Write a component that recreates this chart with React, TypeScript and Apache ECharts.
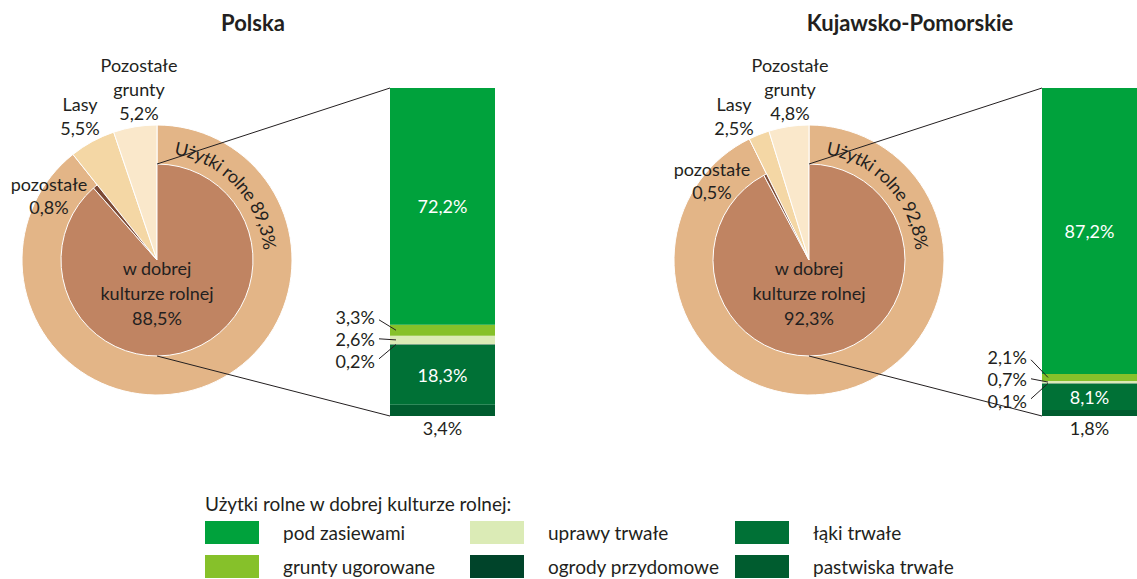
import React, { useEffect, useRef } from 'react';
import * as echarts from 'echarts';

const FONT = 'Lato';
const TEXT = '#231f20';

// ---- data ----
const regions = ['Polska', 'Kujawsko-Pomorskie'];
const landCategories = ['Użytki rolne', 'Lasy', 'Pozostałe grunty'];
const landPolska = [89.3, 5.5, 5.2];
const landKujawsko = [92.8, 2.5, 4.8];
const agriCategories = ['w dobrej kulturze rolnej', 'pozostałe'];
const agriPolska = [88.5, 0.8];
const agriKujawsko = [92.3, 0.5];
const useCategories = [
  'pod zasiewami',
  'grunty ugorowane',
  'uprawy trwałe',
  'ogrody przydomowe',
  'łąki trwałe',
  'pastwiska trwałe',
];
const usePolska = [72.2, 3.3, 2.6, 0.2, 18.3, 3.4];
const useKujawsko = [87.2, 2.1, 0.7, 0.1, 8.1, 1.8];
const legendTitle = 'Użytki rolne w dobrej kulturze rolnej:';

// ---- styles ----
const landColors = ['#e3b587', '#f4d7a5', '#fae8cb'];
const agriColors = ['#c08462', '#7c4a35'];
const useColors = ['#00a23c', '#86c12a', '#dbebb6', '#00442a', '#007136', '#005c2f'];

const R_OUT = 135;
const R_IN = 96;
const BAR_TOP = 88;
const BAR_H = 328;
const BAR_W = 105;
const FS = 18;

const panels = [
  {
    land: landPolska, agri: agriPolska, use: usePolska,
    cx: 157, cy: 260, barLeft: 390, titleX: 253,
    pgPos: [139, 89], lasyPos: [80, 116], pozPos: [49, 195], smallShift: 4,
  },
  {
    land: landKujawsko, agri: agriKujawsko, use: useKujawsko,
    cx: 809, cy: 260, barLeft: 1042, titleX: 910,
    pgPos: [790, 89], lasyPos: [734, 116], pozPos: [712, 180], smallShift: 0,
  },
];

const fmt = (v: number) => v.toFixed(1).replace('.', ',') + '%';

function txt(x: number, y: number, text: string, extra: any = {}) {
  return {
    type: 'text', x, y, z: 100, silent: true,
    style: {
      text, fill: TEXT, fontFamily: FONT, fontSize: FS,
      align: 'center', verticalAlign: 'middle', lineHeight: 24,
      ...extra,
    },
  };
}

function arcText(text: string, cx: number, cy: number, r: number, centerDeg: number, size: number) {
  const canvas = document.createElement('canvas');
  const ctx = canvas.getContext('2d')!;
  ctx.font = `${size}px ${FONT}`;
  const chars = Array.from(text);
  const widths = chars.map((c) => ctx.measureText(c).width);
  const total = widths.reduce((a, b) => a + b, 0);
  let a = (centerDeg * Math.PI) / 180 - total / 2 / r;
  const els: any[] = [];
  chars.forEach((c, k) => {
    const th = a + widths[k] / 2 / r;
    els.push({
      type: 'text', z: 100, silent: true,
      x: cx + r * Math.sin(th), y: cy - r * Math.cos(th), rotation: -th,
      style: { text: c, fill: TEXT, fontFamily: FONT, fontSize: size, align: 'center', verticalAlign: 'middle' },
    });
    a += widths[k] / r;
  });
  return els;
}

export default function App() {
  const ref = useRef<HTMLDivElement>(null);
  useEffect(() => {
    document.body.style.margin = '0';
    const chart = echarts.init(ref.current!, null, { renderer: 'svg' });

    const series: any[] = [];
    panels.forEach((p, i) => {
      const total = p.land.reduce((a, b) => a + b, 0);
      const agriSum = p.agri.reduce((a, b) => a + b, 0);
      series.push({
        type: 'pie', center: [p.cx, p.cy], radius: [0, R_OUT], startAngle: 90, clockwise: true,
        silent: true, label: { show: false }, labelLine: { show: false }, z: 2,
        itemStyle: { borderColor: '#fff', borderWidth: 1 },
        data: landCategories.map((n, j) => ({ name: n, value: p.land[j], itemStyle: { color: landColors[j] } })),
      });
      series.push({
        type: 'pie', center: [p.cx, p.cy], radius: [0, R_IN], startAngle: 90, clockwise: true,
        silent: true, label: { show: false }, labelLine: { show: false }, z: 3,
        itemStyle: { borderColor: '#fff', borderWidth: 1 },
        data: [
          ...agriCategories.map((n, j) => ({ name: n, value: p.agri[j], itemStyle: { color: agriColors[j] } })),
          { name: 'reszta', value: total - agriSum, itemStyle: { color: 'rgba(0,0,0,0)', borderWidth: 0 } },
        ],
      });
      for (let j = useCategories.length - 1; j >= 0; j--) {
        let label: any = { show: false };
        if (j === 0 || j === 4) {
          label = { show: true, position: 'inside', color: '#fff', fontFamily: FONT, fontSize: FS, formatter: (d: any) => fmt(d.value) };
        } else if (j === 5) {
          label = { show: true, position: 'bottom', distance: 3, color: TEXT, fontFamily: FONT, fontSize: FS, formatter: (d: any) => fmt(d.value) };
        }
        series.push({
          type: 'bar', name: useCategories[j], stack: 'use' + i, xAxisIndex: i, yAxisIndex: i,
          barWidth: BAR_W, silent: true, data: [p.use[j]],
          itemStyle: { color: useColors[j] }, label,
        });
      }
    });

    const legendCommon = {
      orient: 'vertical', top: 521, itemWidth: 54, itemHeight: 23, itemGap: 11, icon: 'rect',
      selectedMode: false, padding: 0, height: 58,
      textStyle: { color: TEXT, fontFamily: FONT, fontSize: 19, padding: [0, 0, 0, 19] },
    };

    chart.setOption({
      animation: false,
      grid: panels.map((p) => ({ left: p.barLeft, top: BAR_TOP, width: BAR_W, height: BAR_H })),
      xAxis: panels.map((_, i) => ({ type: 'category', gridIndex: i, data: [regions[i]], show: false })),
      yAxis: panels.map((_, i) => ({ type: 'value', gridIndex: i, min: 0, max: 100, show: false })),
      legend: [
        { ...legendCommon, left: 205, data: [useCategories[0], useCategories[1]] },
        { ...legendCommon, left: 470, data: [useCategories[2], useCategories[3]] },
        { ...legendCommon, left: 735, data: [useCategories[4], useCategories[5]] },
      ],
      series,
    });

    const graphics: any[] = [];
    panels.forEach((p, i) => {
      const toPx = (v: number) => chart.convertToPixel({ xAxisIndex: i, yAxisIndex: i } as any, [0, v]) as number[];
      const yTop = toPx(100)[1];
      const yBot = toPx(0)[1];
      graphics.push(txt(p.titleX, 22, regions[i], { fontSize: 22, fontWeight: 'bold' }));
      // connector lines
      graphics.push({ type: 'line', z: 100, silent: true, shape: { x1: p.cx, y1: p.cy - R_IN, x2: p.barLeft, y2: yTop }, style: { stroke: TEXT, lineWidth: 1 } });
      graphics.push({ type: 'line', z: 100, silent: true, shape: { x1: p.cx, y1: p.cy + R_IN, x2: p.barLeft, y2: yBot }, style: { stroke: TEXT, lineWidth: 1 } });
      // pie labels
      graphics.push(txt(p.pgPos[0], p.pgPos[1], `Pozostałe\ngrunty\n${fmt(p.land[2])}`));
      graphics.push(txt(p.lasyPos[0], p.lasyPos[1], `Lasy\n${fmt(p.land[1])}`));
      graphics.push(txt(p.pozPos[0], p.pozPos[1], `${agriCategories[1]}\n${fmt(p.agri[1])}`, { lineHeight: 23 }));
      graphics.push(txt(p.cx, p.cy + 33, `w dobrej\nkulturze rolnej\n${fmt(p.agri[0])}`, { lineHeight: 25 }));
      graphics.push(...arcText(`${landCategories[0]} ${fmt(p.land[0])}`, p.cx, p.cy, 114, 47, FS));
      // small bar labels
      const centers: number[] = [];
      for (let j = 1; j <= 3; j++) {
        let below = 0;
        for (let k = j + 1; k < p.use.length; k++) below += p.use[k];
        centers.push(toPx(below + p.use[j] / 2)[1]);
      }
      let gBottom = 0;
      for (let k = 4; k < p.use.length; k++) gBottom += p.use[k];
      const gTop = gBottom + p.use[1] + p.use[2] + p.use[3];
      const gMid = (toPx(gBottom)[1] + toPx(gTop)[1]) / 2 + p.smallShift;
      [1, 2, 3].forEach((j, k) => {
        const ly = gMid + (k - 1) * 22;
        graphics.push(txt(p.barLeft - 15, ly, fmt(p.use[j]), { align: 'right' }));
        graphics.push({
          type: 'line', z: 100, silent: true,
          shape: { x1: p.barLeft - 11, y1: ly + (k === 0 ? 3 : k === 2 ? -2 : 0), x2: p.barLeft + 6, y2: centers[k] },
          style: { stroke: TEXT, lineWidth: 1 },
        });
      });
    });
    graphics.push(txt(205, 503, legendTitle, { align: 'left', fontSize: 19 }));
    chart.setOption({ graphic: graphics });

    return () => chart.dispose();
  }, []);
  return <div ref={ref} style={{ width: 1137, height: 579 }} />;
}
